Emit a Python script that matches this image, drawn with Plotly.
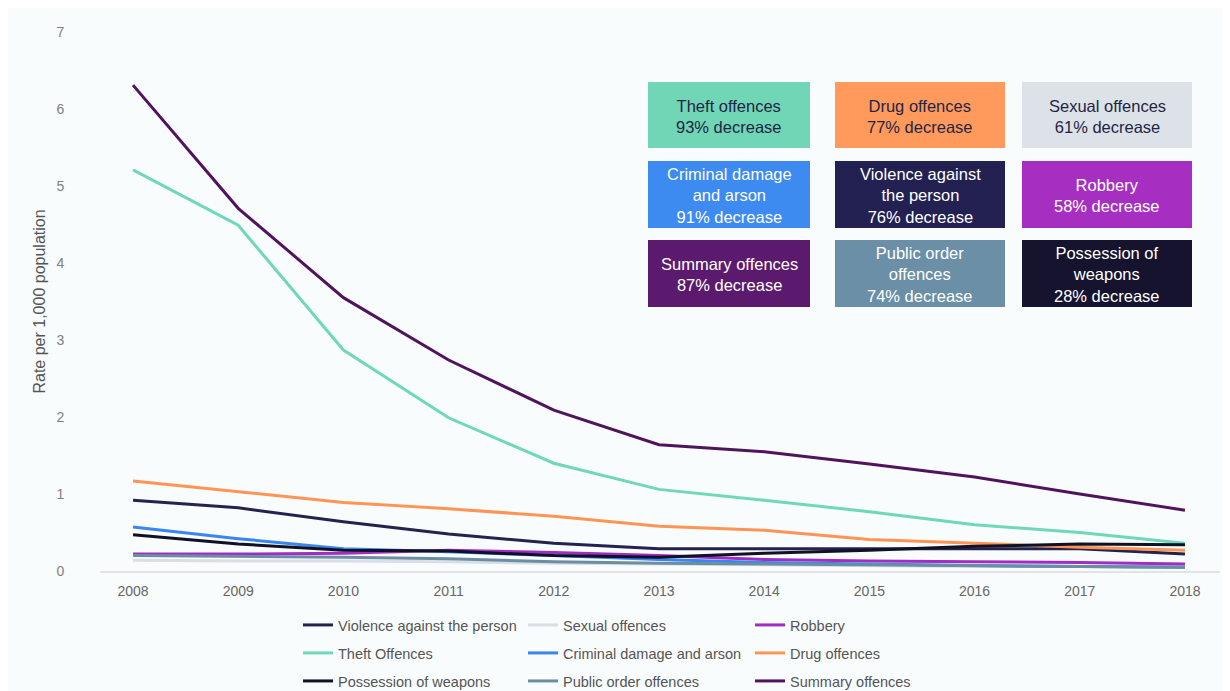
import plotly.graph_objects as go

years = [2008, 2009, 2010, 2011, 2012, 2013, 2014, 2015, 2016, 2017, 2018]

violence = [0.92, 0.82, 0.64, 0.48, 0.36, 0.29, 0.29, 0.29, 0.29, 0.29, 0.22]
sexual = [0.14, 0.13, 0.13, 0.12, 0.10, 0.09, 0.08, 0.07, 0.06, 0.06, 0.055]
robbery = [0.22, 0.22, 0.23, 0.27, 0.24, 0.20, 0.15, 0.13, 0.12, 0.11, 0.09]
theft = [5.21, 4.49, 2.87, 1.99, 1.40, 1.06, 0.92, 0.77, 0.60, 0.50, 0.36]
criminal = [0.57, 0.42, 0.29, 0.25, 0.20, 0.15, 0.11, 0.09, 0.07, 0.06, 0.05]
drug = [1.17, 1.03, 0.89, 0.81, 0.71, 0.58, 0.53, 0.41, 0.36, 0.31, 0.27]
possession = [0.47, 0.35, 0.27, 0.26, 0.20, 0.18, 0.23, 0.27, 0.32, 0.35, 0.34]
public_order = [0.20, 0.19, 0.18, 0.16, 0.12, 0.10, 0.09, 0.08, 0.07, 0.06, 0.05]
summary = [6.31, 4.71, 3.55, 2.74, 2.09, 1.64, 1.55, 1.39, 1.22, 1.00, 0.79]

series_names = ["Violence against the person", "Sexual offences", "Robbery",
                "Theft Offences", "Criminal damage and arson", "Drug offences",
                "Possession of weapons", "Public order offences", "Summary offences"]
series_values = [violence, sexual, robbery, theft, criminal, drug, possession, public_order, summary]
series_colors = ["#25224f", "#d9dee4", "#a32cc4", "#6fd8b8", "#3a86f0", "#ff9455",
                 "#111125", "#6b8ea3", "#50145e"]

box_labels = [
    "Theft offences<br>93% decrease", "Drug offences<br>77% decrease", "Sexual offences<br>61% decrease",
    "Criminal damage<br>and arson<br>91% decrease", "Violence against<br>the person<br>76% decrease",
    "Robbery<br>58% decrease",
    "Summary offences<br>87% decrease", "Public order<br>offences<br>74% decrease",
    "Possession of<br>weapons<br>28% decrease",
]
box_fill = ["#70d6b5", "#ff9a5c", "#dde2e8", "#3d8af0", "#232052", "#a62fc2",
            "#5c1a6e", "#6a8fa6", "#15132e"]
box_text = ["#1f2545", "#1f2545", "#1f2545", "#ffffff", "#ffffff", "#ffffff",
            "#ffffff", "#ffffff", "#ffffff"]

# page is offset by 8px (body margin); positions below are in figure pixels.
# Figure is a bit taller than the window so the bottom legend row never forces a margin change.
W, H = 1230, 720
L, R, T, B = 92, 18, 24, 157
PW, PH = W - L - R, H - T - B
BOTTOM = H - B  # y pixel of the x axis


def px(x):
    return (x - L) / PW


def py(y):
    return (BOTTOM - y) / PH


fig = go.Figure()
leg_ids = ["legend"] + ["legend%d" % i for i in range(2, 10)]
for i, (name, vals, col) in enumerate(zip(series_names, series_values, series_colors)):
    fig.add_trace(go.Scatter(
        x=years, y=vals, name=name, mode="lines",
        line=dict(color=col, width=3),
        legend=leg_ids[i], showlegend=True,
    ))

# annotation boxes
box_x = [(640, 802), (827, 997), (1014, 1184)]
box_y = [(74, 140), (153, 220), (232, 299)]
for k, (lab, fill, tc) in enumerate(zip(box_labels, box_fill, box_text)):
    r, c = divmod(k, 3)
    x0, x1 = box_x[c]
    y0, y1 = box_y[r]
    fig.add_shape(type="rect", xref="paper", yref="paper",
                  x0=px(x0), x1=px(x1), y0=py(y1), y1=py(y0),
                  fillcolor=fill, line=dict(width=0), layer="above")
    fig.add_annotation(xref="paper", yref="paper", x=px((x0 + x1) / 2), y=py((y0 + y1) / 2 + 1),
                       text=lab, showarrow=False, font=dict(color=tc, size=16.5),
                       align="center", xanchor="center", yanchor="middle")

leg_cols_x = [290, 515, 742]
leg_rows_y = [617, 645, 673]
legend_layout = {}
for i, lid in enumerate(leg_ids):
    r, c = divmod(i, 3)
    legend_layout[lid] = dict(orientation="v", yanchor="middle", xanchor="left",
                              x=px(leg_cols_x[c]), y=py(leg_rows_y[r]),
                              bgcolor="rgba(0,0,0,0)", font=dict(size=14.5, color="#555555"),
                              itemwidth=30, visible=True)

fig.update_layout(
    width=W, height=H, showlegend=True,
    margin=dict(l=L, r=R, t=T, b=B),
    paper_bgcolor="#f9fcfc", plot_bgcolor="#f9fcfc",
    font=dict(family="Liberation Sans, Arial, sans-serif", color="#555555"),
    xaxis=dict(range=[2007.686, 2018.333], tickvals=years, ticktext=[str(y) for y in years],
               showgrid=False, zeroline=False, showline=True, linecolor="#e2e4e4", linewidth=2,
               ticks="outside", ticklen=6, tickcolor="rgba(0,0,0,0)",
               tickfont=dict(size=14, color="#666666")),
    yaxis=dict(range=[0, 7], tickvals=[0, 1, 2, 3, 4, 5, 6, 7], showgrid=False, zeroline=False,
               showline=False, ticks="outside", ticklen=32, tickcolor="rgba(0,0,0,0)",
               tickfont=dict(size=14, color="#808080"),
               title=dict(text="Rate per 1,000 population", font=dict(size=16, color="#555555"),
                          standoff=6)),
    **legend_layout,
)

fig.write_html("out.html")
